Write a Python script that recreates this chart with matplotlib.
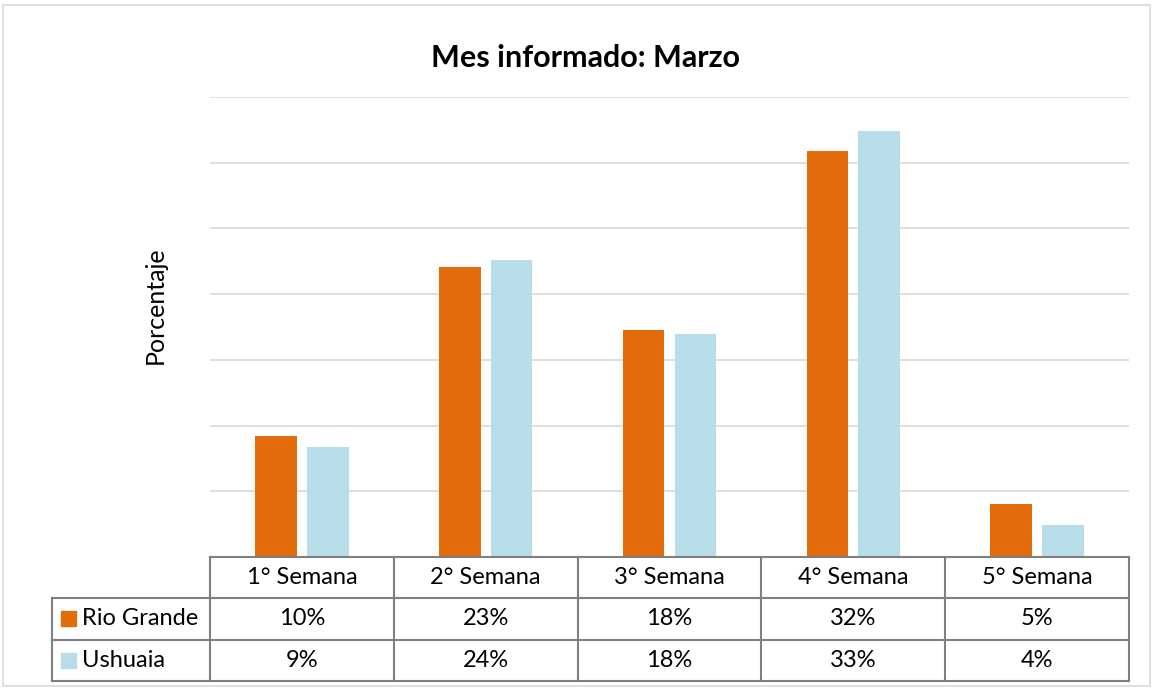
import numpy as np
import matplotlib.pyplot as plt
from matplotlib.patches import Rectangle
from matplotlib.transforms import blended_transform_factory

# data (bar heights in %, table shows the rounded labels)
semanas = ["1° Semana", "2° Semana", "3° Semana", "4° Semana", "5° Semana"]
series = ["Rio Grande", "Ushuaia"]
rio_grande = [9.2, 22.1, 17.3, 30.9, 4.0]
ushuaia = [8.4, 22.6, 17.0, 32.4, 2.4]
rio_grande_lbl = ["10%", "23%", "18%", "32%", "5%"]
ushuaia_lbl = ["9%", "24%", "18%", "33%", "4%"]
colors = ["#E36C0A", "#B7DEE8"]

plt.rcParams['font.family'] = ['Lato', 'DejaVu Sans']

W, H = 1154, 688
fig = plt.figure(figsize=(W / 100, H / 100), dpi=100)

# plot area in pixels
x0, x1, ytop, ybot = 210, 1129, 97, 557
ax = fig.add_axes([x0 / W, 1 - ybot / H, (x1 - x0) / W, (ybot - ytop) / H])

x = np.arange(len(semanas))
bw = 0.226
off = 0.141
ax.bar(x - off, rio_grande, bw, color=colors[0], zorder=3)
ax.bar(x + off, ushuaia, bw, color=colors[1], zorder=3)

ax.set_xlim(-0.5, len(semanas) - 0.5)
ax.set_ylim(0, 35)
ax.set_yticks(np.arange(5, 36, 5))
ax.yaxis.grid(True, color="#d9d9d9", linewidth=1.2)
ax.set_axisbelow(True)
ax.tick_params(left=False, bottom=False, labelleft=False, labelbottom=False)
for s in ax.spines.values():
    s.set_visible(False)

fs = 17
fig.text(155 / W, 1 - 305 / H, "Porcentaje", rotation=90, ha="center", va="center", fontsize=18)
fig.text(585 / W, 1 - 58 / H, "Mes informado: Marzo", ha="center", va="center",
         fontsize=22, fontweight="bold")

# data table below the axes, x in data units, y in axes fraction
tr = blended_transform_factory(ax.transData, ax.transAxes)
rh = 41.3 / (ybot - ytop)
xl = -0.5 - (x0 - 52) / ((x1 - x0) / len(semanas))
lc = "#7f7f7f"
lw = 1.5
xr = len(semanas) - 0.5

def hline(y, xa, xb):
    ax.plot([xa, xb], [y, y], color=lc, lw=lw, transform=tr, clip_on=False, zorder=5)

def vline(xv, ya, yb):
    ax.plot([xv, xv], [ya, yb], color=lc, lw=lw, transform=tr, clip_on=False, zorder=5)

hline(0, -0.5, xr)
for r in range(1, 4):
    hline(-r * rh, xl, xr)
vline(xl, -rh, -3 * rh)
for i in range(len(semanas) + 1):
    vline(i - 0.5, 0, -3 * rh)

for i, name in enumerate(semanas):
    ax.text(i, -0.5 * rh, name, transform=tr, ha="center", va="center", fontsize=fs)
    ax.text(i, -1.5 * rh, rio_grande_lbl[i], transform=tr, ha="center", va="center", fontsize=fs)
    ax.text(i, -2.5 * rh, ushuaia_lbl[i], transform=tr, ha="center", va="center", fontsize=fs)

# row labels with legend keys
for r, (name, c) in enumerate(zip(series, colors)):
    yc = 1 - (557 + 41.3 * (r + 1.5)) / H
    fig.patches.append(Rectangle((61 / W, yc - 7.5 / H), 15 / W, 15 / H,
                                 transform=fig.transFigure, color=c))
    fig.text(82 / W, yc, name, ha="left", va="center", fontsize=fs)

# outer chart frame
fig.patches.append(Rectangle((3 / W, 2 / H), 1147 / W, 681 / H, transform=fig.transFigure,
                             fill=False, edgecolor="#d9d9d9", lw=1.2))

fig.savefig("out.png", dpi=100)
